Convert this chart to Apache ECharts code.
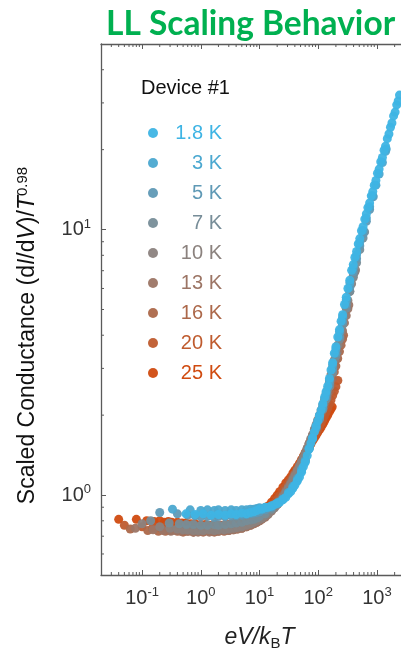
<!DOCTYPE html>
<html>
<head>
<meta charset="utf-8">
<title>LL Scaling Behavior</title>
<script src="https://cdn.jsdelivr.net/npm/echarts@6/dist/echarts.min.js"></script>
<style>html,body{margin:0;padding:0;background:#fff;}</style>
</head>
<body>
<div id="main" style="width:401px;height:652px;"></div>
<script>
// temperatures and their colours (legend order)
var temps = ['1.8 K', '3 K', '5 K', '7 K', '10 K', '13 K', '16 K', '20 K', '25 K'];
var colors = ['#3eb4e4', '#4ba8d0', '#5f99b5', '#778d98', '#8b827e', '#9c7565', '#ac684a', '#bf5b2e', '#d04b10'];

// [eV/kBT, scaled conductance]
var d1_8K = [[0.56,0.85],[0.8,0.845],[1.1,0.85],[1.5,0.84],[2,0.845],[2.6,0.84],[3.3,0.85],[4,0.845],[5,0.855],[6,0.85],[7,0.86],[8,0.865],[9,0.875],[10,0.885],[11,0.885],[12.5,0.895],[14,0.9],[16,0.91],[18,0.92],[20,0.93],[22,0.94],[25,0.96],[28,0.98],[31,1.01],[34,1.03],[37,1.06],[40,1.09],[44,1.13],[48,1.17],[52,1.22],[56,1.28],[60,1.33],[65,1.41],[70,1.49],[75,1.57],[80,1.64],[86,1.73],[92,1.82],[98,1.9],[105,2.0],[112,2.09],[120,2.21],[128,2.33],[136,2.45],[145,2.57],[155,2.75],[165,2.96],[176,3.15],[188,3.42],[200,3.62],[215,3.94],[230,4.2],[245,4.52],[260,4.78],[280,5.22],[300,5.56],[320,6.0],[345,6.45],[370,7.02],[395,7.38],[420,7.85],[450,8.27],[480,8.83],[510,9.25],[545,9.9],[580,10.25],[620,10.95],[660,11.45],[700,12.1],[750,12.6],[800,13.4],[850,13.9],[900,14.7],[960,15.3],[1020,16.3],[1090,16.9],[1160,18.0],[1240,18.7],[1320,19.9],[1400,20.6],[1500,22.0],[1600,22.9],[1700,24.3],[1800,25.2],[1920,26.8],[2040,27.7],[2170,29.5],[2300,30.5],[2420,32.1]];
var d3K = [[0.33,0.885],[0.66,0.88],[1,0.875],[1.3,0.88],[1.7,0.875],[2,0.88],[2.6,0.875],[3.3,0.88],[4,0.875],[5,0.88],[6,0.88],[7,0.885],[8,0.885],[9,0.89],[10,0.895],[12.5,0.9],[16,0.91],[20,0.935],[25,0.965],[31,1.02],[37,1.07],[44,1.14],[52,1.24],[60,1.34],[70,1.5],[80,1.64],[92,1.81],[105,1.98],[120,2.18],[136,2.41],[155,2.71],[176,3.1],[200,3.55],[230,4.12],[260,4.68],[300,5.43],[345,6.3],[395,7.18],[450,8.03],[510,8.97],[580,9.93],[660,11.05],[750,12.2],[850,13.4],[960,14.7],[1090,16.2],[1240,17.9],[1400,19.7],[1440,20.1]];
var d5K = [[0.2,0.86],[0.4,0.85],[0.6,0.84],[0.8,0.835],[1,0.83],[1.3,0.83],[1.7,0.825],[2,0.83],[2.6,0.83],[3.3,0.835],[4,0.835],[5,0.84],[6,0.845],[7,0.85],[8,0.855],[9,0.86],[10,0.865],[12.5,0.88],[16,0.9],[20,0.93],[25,0.965],[31,1.02],[37,1.08],[44,1.15],[52,1.25],[60,1.35],[70,1.5],[80,1.63],[92,1.79],[105,1.95],[120,2.13],[136,2.35],[155,2.63],[176,2.99],[200,3.42],[230,3.96],[260,4.5],[300,5.22],[345,6.07],[395,6.93],[450,7.77],[510,8.7],[580,9.63],[660,10.75],[750,11.9],[864,13.3]];
var d7K = [[0.14,0.8],[0.29,0.785],[0.43,0.78],[0.57,0.775],[0.75,0.775],[1,0.77],[1.3,0.77],[1.7,0.775],[2,0.77],[2.6,0.775],[3.3,0.78],[4,0.785],[5,0.79],[6,0.8],[7,0.805],[8,0.81],[9,0.82],[10,0.83],[12.5,0.85],[16,0.885],[20,0.92],[25,0.965],[31,1.02],[37,1.08],[44,1.16],[52,1.26],[60,1.36],[70,1.5],[80,1.63],[92,1.78],[105,1.93],[120,2.1],[136,2.3],[155,2.56],[176,2.9],[200,3.34],[230,3.86],[260,4.38],[300,5.05],[345,5.86],[395,6.7],[450,7.5],[510,8.4],[580,9.3],[617,9.8]];
var d10K = [[0.1,0.78],[0.2,0.76],[0.3,0.75],[0.4,0.745],[0.5,0.74],[0.6,0.74],[0.75,0.735],[0.9,0.735],[1.1,0.735],[1.4,0.74],[1.7,0.735],[2,0.74],[2.5,0.74],[3,0.745],[3.6,0.75],[4.2,0.755],[5,0.76],[6,0.77],[7,0.78],[8,0.79],[9,0.8],[10,0.81],[11,0.82],[12.5,0.835],[14,0.85],[16,0.875],[18,0.895],[20,0.92],[22,0.945],[25,0.98],[28,1.02],[31,1.06],[34,1.1],[37,1.14],[40,1.18],[44,1.23],[48,1.28],[52,1.33],[56,1.38],[60,1.43],[65,1.5],[70,1.56],[75,1.63],[80,1.69],[86,1.77],[92,1.84],[98,1.92],[105,2.0],[112,2.09],[120,2.19],[128,2.29],[136,2.39],[145,2.5],[155,2.66],[165,2.84],[176,3.03],[188,3.23],[200,3.41],[215,3.67],[230,3.92],[245,4.16],[260,4.42],[280,4.75],[300,5.08],[320,5.41],[345,5.84],[370,6.25],[395,6.6],[420,6.92],[432,7.04]];
var d13K = [[0.077,0.75],[0.154,0.74],[0.23,0.735],[0.31,0.73],[0.38,0.735],[0.46,0.73],[0.6,0.73],[0.75,0.725],[0.9,0.725],[1.1,0.73],[1.4,0.725],[1.7,0.73],[2,0.73],[2.5,0.735],[3,0.735],[3.6,0.74],[4.2,0.745],[5,0.75],[6,0.76],[7,0.77],[8,0.78],[9,0.79],[10,0.8],[11,0.81],[12.5,0.825],[14,0.845],[16,0.87],[18,0.895],[20,0.92],[22,0.95],[25,0.99],[28,1.03],[31,1.07],[34,1.11],[37,1.15],[40,1.19],[44,1.24],[48,1.29],[52,1.34],[56,1.39],[60,1.44],[65,1.5],[70,1.56],[75,1.62],[80,1.68],[86,1.75],[92,1.82],[98,1.89],[105,1.96],[112,2.04],[120,2.13],[128,2.22],[136,2.31],[145,2.42],[155,2.56],[165,2.72],[176,2.89],[188,3.07],[200,3.24],[215,3.47],[230,3.7],[245,3.92],[260,4.15],[280,4.45],[300,4.74],[320,5.03],[332,5.2]];
var d16K = [[0.063,0.745],[0.125,0.735],[0.19,0.73],[0.25,0.73],[0.31,0.735],[0.4,0.73],[0.5,0.725],[0.6,0.73],[0.75,0.725],[0.9,0.73],[1.1,0.725],[1.4,0.73],[1.7,0.725],[2,0.73],[2.5,0.73],[3,0.735],[3.6,0.74],[4.2,0.745],[5,0.75],[6,0.76],[7,0.77],[8,0.78],[9,0.79],[10,0.8],[11,0.815],[12.5,0.83],[14,0.85],[16,0.88],[18,0.905],[20,0.93],[22,0.96],[25,1.0],[28,1.04],[31,1.08],[34,1.12],[37,1.16],[40,1.2],[44,1.25],[48,1.3],[52,1.35],[56,1.39],[60,1.44],[65,1.5],[70,1.56],[75,1.61],[80,1.67],[86,1.74],[92,1.8],[98,1.87],[105,1.94],[112,2.01],[120,2.09],[128,2.17],[136,2.25],[145,2.34],[155,2.46],[165,2.6],[176,2.75],[188,2.91],[200,3.06],[215,3.27],[230,3.47],[245,3.67],[260,3.87],[270,4.0]];
var d20K = [[0.05,0.77],[0.1,0.76],[0.15,0.75],[0.2,0.755],[0.25,0.75],[0.3,0.75],[0.4,0.745],[0.5,0.745],[0.6,0.74],[0.75,0.74],[0.9,0.74],[1.1,0.735],[1.4,0.74],[1.7,0.735],[2,0.74],[2.5,0.74],[3,0.745],[3.6,0.75],[4.2,0.755],[5,0.76],[6,0.77],[7,0.78],[8,0.79],[9,0.805],[10,0.82],[11,0.835],[12.5,0.855],[14,0.875],[16,0.905],[18,0.935],[20,0.965],[22,0.995],[25,1.035],[28,1.075],[31,1.11],[34,1.145],[37,1.18],[40,1.21],[44,1.255],[48,1.3],[52,1.34],[56,1.38],[60,1.42],[65,1.47],[70,1.52],[75,1.56],[80,1.61],[86,1.66],[92,1.71],[98,1.76],[105,1.82],[112,1.87],[120,1.93],[128,1.99],[136,2.05],[145,2.12],[155,2.2],[165,2.28],[176,2.37],[188,2.46],[200,2.56],[216,2.7]];
var d25K = [[0.04,0.81],[0.08,0.81],[0.12,0.8],[0.16,0.795],[0.2,0.8],[0.24,0.79],[0.28,0.795],[0.32,0.79],[0.4,0.79],[0.48,0.785],[0.56,0.785],[0.68,0.78],[0.8,0.78],[1,0.775],[1.2,0.775],[1.5,0.77],[1.8,0.775],[2.2,0.77],[2.6,0.775],[3,0.775],[3.5,0.78],[4,0.785],[4.6,0.79],[5.2,0.795],[6,0.8],[7,0.81],[8,0.82],[9,0.835],[10,0.85],[11,0.87],[12.5,0.89],[14,0.91],[16,0.94],[18,0.97],[20,1.0],[22,1.03],[25,1.07],[28,1.11],[31,1.14],[34,1.17],[37,1.21],[40,1.24],[44,1.28],[48,1.32],[52,1.36],[56,1.4],[60,1.44],[65,1.48],[70,1.52],[75,1.56],[80,1.6],[86,1.64],[92,1.68],[98,1.72],[105,1.76],[112,1.8],[120,1.85],[128,1.9],[136,1.95],[145,2.0],[155,2.06],[165,2.11],[173,2.15]];
var seriesData = [d1_8K, d3K, d5K, d7K, d10K, d13K, d16K, d20K, d25K];

// minor tick positions
var xMinor = [0.03,0.04,0.05,0.06,0.07,0.08,0.09,0.2,0.3,0.4,0.5,0.6,0.7,0.8,0.9,2,3,4,5,6,7,8,9,20,30,40,50,60,70,80,90,200,300,400,500,600,700,800,900,2000,3000,4000];
var yMinor = [0.6,0.7,0.8,0.9,2,3,4,5,6,7,8,9,20,30,40];

var xMin = 0.02, xMax = 5000, yMin = 0.5, yMax = 50;
var F = 'Liberation Sans, Arial, sans-serif';
var axisColor = '#5a5a5a';

var chart = echarts.init(document.getElementById('main'));

function powLabel(value) {
    var l = Math.log10(value);
    var e = Math.round(l);
    if (Math.abs(l - e) > 1e-6) return '';
    return '{b|10}{s|' + e + '}';
}
var labelRich = {
    b: {fontFamily: F, fontSize: 20, color: '#333', lineHeight: 24},
    s: {fontFamily: F, fontSize: 13, color: '#333', lineHeight: 13, verticalAlign: 'top'}
};

var series = [];
// draw hottest first so 1.8 K sits on top
for (var i = temps.length - 1; i >= 0; i--) {
    series.push({
        name: temps[i],
        type: 'scatter',
        data: seriesData[i],
        symbolSize: 9,
        itemStyle: {color: colors[i], opacity: 0.95},
        emphasis: {disabled: true},
        z: 2
    });
}
// minor ticks on bottom/top and left
series.push({
    type: 'custom',
    silent: true,
    clip: false,
    z: 5,
    data: xMinor.map(function (v) { return [v, yMin]; }),
    renderItem: function (params, api) {
        var v = api.value(0);
        var lo = api.coord([v, yMin]);
        var hi = api.coord([v, yMax]);
        return {type: 'group', children: [
            {type: 'line', shape: {x1: lo[0], y1: lo[1], x2: lo[0], y2: lo[1] - 3}, style: {stroke: axisColor, lineWidth: 1}},
            {type: 'line', shape: {x1: hi[0], y1: hi[1], x2: hi[0], y2: hi[1] + 3}, style: {stroke: axisColor, lineWidth: 1}}
        ]};
    }
});
series.push({
    type: 'custom',
    silent: true,
    clip: false,
    z: 5,
    data: yMinor.map(function (v) { return [xMin, v]; }),
    renderItem: function (params, api) {
        var p = api.coord([xMin, api.value(1)]);
        return {type: 'line', shape: {x1: p[0], y1: p[1], x2: p[0] + 3, y2: p[1]}, style: {stroke: axisColor, lineWidth: 1}};
    }
});

var option = {
    animation: false,
    backgroundColor: '#fff',
    title: [{
        text: 'LL Scaling Behavior',
        left: 106, top: 7, padding: 0,
        textStyle: {fontFamily: 'Lato', fontWeight: 'bold', fontSize: 33.5, color: '#00b050'}
    }, {
        text: 'Device #1',
        left: 141, top: 78, padding: 0,
        textStyle: {fontFamily: F, fontWeight: 'normal', fontSize: 20, color: '#111'}
    }],
    legend: {
        orient: 'vertical',
        left: 148, top: 123, padding: 0,
        itemGap: 10, itemWidth: 10, itemHeight: 10,
        icon: 'circle',
        selectedMode: false,
        data: temps.map(function (t, i) { return {name: t, textStyle: {color: colors[i]}}; }),
        formatter: function (n) { return '{a|' + n + '}'; },
        textStyle: {
            fontFamily: F, fontSize: 20,
            rich: {a: {fontFamily: F, fontSize: 20, width: 59, align: 'right', lineHeight: 20}}
        }
    },
    grid: {left: 101, top: 44, right: -17, bottom: 77, containLabel: false, outerBoundsMode: 'none'},
    xAxis: [{
        type: 'log', min: xMin, max: xMax,
        name: '{i|eV/k}{sub|B}{i|T}',
        nameLocation: 'middle', nameGap: 50,
        nameTextStyle: {
            rich: {
                i: {fontFamily: F, fontSize: 23, fontStyle: 'italic', color: '#222', lineHeight: 26},
                sub: {fontFamily: F, fontSize: 15, color: '#222', lineHeight: 15, verticalAlign: 'bottom'}
            }
        },
        axisLine: {lineStyle: {color: axisColor, width: 1.3}},
        axisTick: {inside: true, length: 5, lineStyle: {color: axisColor}},
        axisLabel: {margin: 11, formatter: powLabel, rich: labelRich},
        splitLine: {show: false}
    }, {
        type: 'log', min: xMin, max: xMax, position: 'top',
        axisLine: {lineStyle: {color: axisColor, width: 1.3}},
        axisTick: {inside: true, length: 5, lineStyle: {color: axisColor}},
        axisLabel: {show: false},
        splitLine: {show: false}
    }],
    yAxis: {
        type: 'log', min: yMin, max: yMax,
        name: '{n|Scaled Conductance (d}{i|I}{n|/d}{i|V}{n|)/}{i|T}{s|0.98}',
        nameLocation: 'middle', nameGap: 60,
        nameTextStyle: {
            padding: [0, 52, 0, 0],
            rich: {
                n: {fontFamily: F, fontSize: 23, color: '#111', lineHeight: 26},
                i: {fontFamily: F, fontSize: 23, fontStyle: 'italic', color: '#111', lineHeight: 26},
                s: {fontFamily: F, fontSize: 15, color: '#111', lineHeight: 15, verticalAlign: 'top'}
            }
        },
        axisLine: {lineStyle: {color: axisColor, width: 1.3}},
        axisTick: {inside: true, length: 5, lineStyle: {color: axisColor}},
        axisLabel: {margin: 10, formatter: powLabel, rich: labelRich},
        splitLine: {show: false}
    },
    series: series
};
chart.setOption(option);
</script>
</body>
</html>
